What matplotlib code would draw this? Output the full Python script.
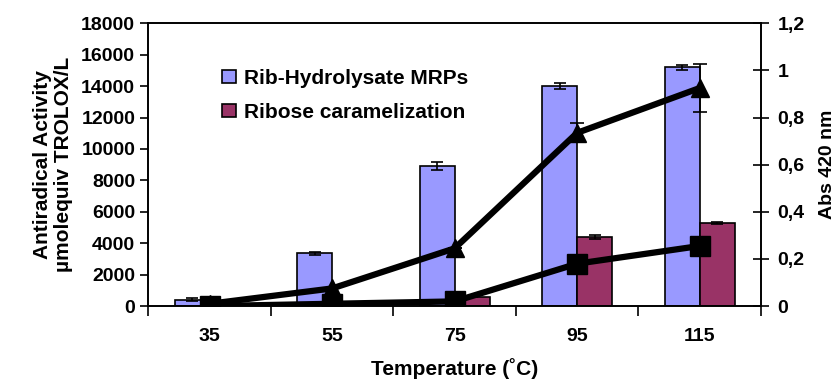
import numpy as np
import matplotlib.pyplot as plt

plt.rcParams['font.family'] = ['Liberation Sans', 'DejaVu Sans']
plt.rcParams['font.weight'] = 'bold'
plt.rcParams['axes.labelweight'] = 'bold'

temps = ['35', '55', '75', '95', '115']
mrp = [400, 3350, 8900, 14000, 15200]
mrp_err = [100, 80, 250, 200, 150]
carm = [40, 80, 600, 4400, 5300]
carm_err = [0, 0, 0, 100, 80]
abs_mrp = [0.01, 0.075, 0.245, 0.735, 0.925]
abs_mrp_err = [0, 0, 0, 0.04, 0.10]
abs_carm = [0.0, 0.01, 0.02, 0.18, 0.255]

fig = plt.figure(figsize=(8.38, 3.87), dpi=100)
ax = fig.add_axes([0.177, 0.209, 0.731, 0.731])
x = np.arange(len(temps))
w = 0.285

ax.bar(x - w / 2, mrp, w, yerr=mrp_err, color='#9999ff', edgecolor='black',
       linewidth=1.2, capsize=4, error_kw=dict(elinewidth=1.2, capthick=1.2),
       label='Rib-Hydrolysate MRPs', zorder=2)
ax.bar(x + w / 2, carm, w, yerr=carm_err, color='#993366', edgecolor='black',
       linewidth=1.2, capsize=4, error_kw=dict(elinewidth=1.2, capthick=1.2),
       label='Ribose caramelization', zorder=2)

ax.set_xlim(-0.5, 4.5)
ax.set_ylim(0, 18000)
ax.set_yticks(range(0, 18001, 2000))
ax.set_xticks(x)
ax.set_xticklabels(temps)
ax.set_xticks(np.arange(-0.5, 4.6, 1), minor=True)
ax.tick_params(axis='x', which='major', length=0, labelsize=14, pad=16)
ax.tick_params(axis='x', which='minor', length=7, width=1.2, direction='out')
ax.tick_params(axis='y', labelsize=14, length=6, width=1.2, direction='out')
ax.set_xlabel('Temperature (˚C)', fontsize=15, labelpad=9)
ax.set_ylabel('Antiradical Activity\nµmolequiv TROLOX/L', fontsize=15,
              linespacing=1.15, labelpad=6)
for s in ax.spines.values():
    s.set_linewidth(1.2)

leg = ax.legend(loc='upper left', bbox_to_anchor=(0.09, 0.905), frameon=False,
                fontsize=15, handlelength=0.65, handleheight=0.65,
                handletextpad=0.4, labelspacing=0.72)

ax2 = ax.twinx()
ax2.errorbar(x, abs_mrp, yerr=abs_mrp_err, color='black', lw=4.5,
             marker='^', ms=13, capsize=5, elinewidth=1.2, capthick=1.2, zorder=3)
ax2.plot(x, abs_carm, color='black', lw=4.5, marker='s', ms=14, zorder=3)
ax2.set_ylim(0, 1.2)
ax2.set_yticks([0, 0.2, 0.4, 0.6, 0.8, 1.0, 1.2])
ax2.set_yticklabels(['0', '0,2', '0,4', '0,6', '0,8', '1', '1,2'])
ax2.tick_params(axis='y', labelsize=14, length=12, width=1.2, direction='inout', pad=6)
ax2.set_ylabel('Abs 420 nm', fontsize=14, labelpad=10)
for s in ax2.spines.values():
    s.set_linewidth(1.2)

plt.savefig('out.png', dpi=100)
